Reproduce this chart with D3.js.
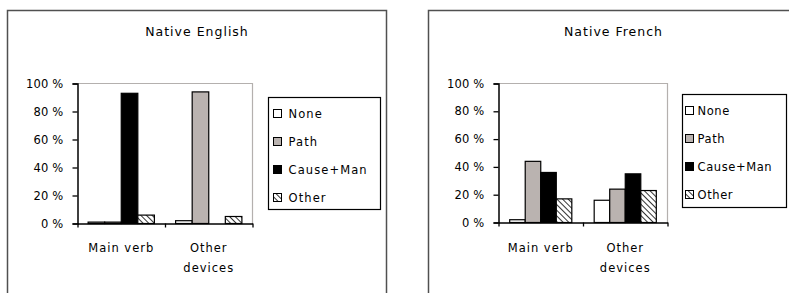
<!DOCTYPE html>
<html>
<head>
<meta charset="utf-8">
<script src="https://cdn.jsdelivr.net/npm/d3@7/dist/d3.min.js"></script>
<style>
  body { margin: 0; background: #fff; }
  svg text { font-family: "DejaVu Sans", sans-serif; fill: #000; }
</style>
</head>
<body>
<div id="graph"></div>
<script>
// Chart data
const categories = ["Main verb", "Other devices"];
const categoryLines = [["Main verb"], ["Other", "devices"]];
const seriesNames = ["None", "Path", "Cause+Man", "Other"];
const englishValues = [[1, 1, 93, 6], [2, 94, 0, 5]];
const frenchValues = [[2, 44, 36, 17], [16, 24, 35, 23]];
const yTicks = [0, 20, 40, 60, 80, 100];
const panelTitles = ["Native English", "Native French"];

const svg = d3.select("#graph")
    .append("svg")
    .attr("width", 789)
    .attr("height", 293);

// Hatch pattern for "Other" (lines running top-left to bottom-right)
const defs = svg.append("defs");
defs.append("pattern")
    .attr("id", "hatch")
    .attr("patternUnits", "userSpaceOnUse")
    .attr("width", 4)
    .attr("height", 4)
    .attr("patternTransform", "rotate(-45)")
    .call(p => {
        p.append("rect").attr("width", 4).attr("height", 4).attr("fill", "#fff");
        p.append("line")
            .attr("x1", 0).attr("y1", 0).attr("x2", 0).attr("y2", 4)
            .attr("stroke", "#000").attr("stroke-width", 1.6);
    });

const fills = ["#fff", "#bab3b0", "#000", "url(#hatch)"];

function drawPanel(opts) {
    const { title, values, box, plot, legend } = opts;
    const g = svg.append("g");

    // Outer chart border
    g.append("rect")
        .attr("x", box.x).attr("y", box.y)
        .attr("width", box.w).attr("height", box.h)
        .attr("fill", "#fff")
        .attr("stroke", "#505050")
        .attr("stroke-width", 1.5);

    g.append("text")
        .attr("x", box.x + box.w / 2 - (box.titleShift || 0))
        .attr("y", 36)
        .attr("text-anchor", "middle")
        .style("font-size", "12.5px")
        .style("letter-spacing", "1px")
        .text(title);

    const x = d3.scaleBand()
        .domain(categories)
        .range([plot.x0, plot.x1])
        .padding(0);
    const xs = d3.scaleBand()
        .domain(seriesNames)
        .range([0, x.bandwidth()])
        .paddingInner(0)
        .paddingOuter(plot.outer);
    const y = d3.scaleLinear()
        .domain([0, 100])
        .range([plot.y1, plot.y0]);

    // Plot area grey frame (top and right)
    g.append("path")
        .attr("d", `M${plot.x0},${plot.y0}H${plot.x1}V${plot.y1}`)
        .attr("fill", "none")
        .attr("stroke", "#b4b0ae")
        .attr("stroke-width", 1.2);

    // Bars
    const groups = g.selectAll(".cat")
        .data(categories)
        .join("g")
        .attr("transform", d => `translate(${x(d)},0)`);
    groups.selectAll("rect")
        .data((d, i) => values[i].map((v, j) => ({ v, s: seriesNames[j], j })))
        .join("rect")
        .attr("x", d => xs(d.s))
        .attr("y", d => y(d.v))
        .attr("width", xs.bandwidth())
        .attr("height", d => y(0) - y(d.v))
        .attr("fill", d => fills[d.j])
        .attr("stroke", "#000")
        .attr("stroke-width", d => d.v > 0 ? 1.2 : 0);

    // Y axis
    const yAxis = g.append("g")
        .attr("transform", `translate(${plot.x0},0)`)
        .call(d3.axisLeft(y).tickValues(yTicks).tickSize(5).tickPadding(9)
            .tickFormat(d => d + " %"));
    yAxis.select(".domain").attr("stroke", "#000").attr("stroke-width", 1.5);
    yAxis.selectAll(".tick line").attr("stroke", "#000").attr("stroke-width", 1.3);
    yAxis.selectAll("text")
        .style("font-size", "11.5px")
        .style("letter-spacing", "0.2px")
        .attr("font-family", null);

    // X axis (ticks at category boundaries)
    const xb = d3.scaleLinear().domain([0, categories.length]).range([plot.x0, plot.x1]);
    const xAxis = g.append("g")
        .attr("transform", `translate(0,${plot.y1})`)
        .call(d3.axisBottom(xb).tickValues(d3.range(categories.length + 1))
            .tickSize(4).tickSizeOuter(0).tickFormat(""));
    xAxis.select(".domain").attr("stroke", "#000").attr("stroke-width", 1.5);
    xAxis.selectAll(".tick line").attr("stroke", "#000").attr("stroke-width", 1.3);

    // Category labels
    categories.forEach((c, i) => {
        const t = g.append("text")
            .attr("x", x(c) + x.bandwidth() / 2)
            .attr("y", 252)
            .attr("text-anchor", "middle")
            .style("font-size", "11.5px")
            .style("letter-spacing", "1px");
        categoryLines[i].forEach((line, k) => {
            t.append("tspan")
                .attr("x", x(c) + x.bandwidth() / 2)
                .attr("dy", k === 0 ? 0 : 20)
                .text(line);
        });
    });

    // Legend
    const lg = g.append("g");
    lg.append("rect")
        .attr("x", legend.x).attr("y", legend.y)
        .attr("width", legend.w).attr("height", legend.h)
        .attr("fill", "#fff")
        .attr("stroke", "#000")
        .attr("stroke-width", 1.2);
    const items = lg.selectAll(".item")
        .data(seriesNames)
        .join("g")
        .attr("transform", (d, i) => `translate(${legend.x + legend.pad},${legend.y + 16 + i * 28})`);
    items.append("rect")
        .attr("x", 0).attr("y", -4)
        .attr("width", 8).attr("height", 8)
        .attr("fill", (d, i) => fills[i])
        .attr("stroke", "#000")
        .attr("stroke-width", 1);
    items.append("text")
        .attr("x", legend.gap)
        .attr("y", 4.5)
        .style("font-size", "11.5px")
        .style("letter-spacing", legend.spacing)
        .text(d => d);
}

drawPanel({
    title: panelTitles[0],
    values: englishValues,
    box: { x: 7.5, y: 10.5, w: 379, h: 300 },
    plot: { x0: 77.5, x1: 252.5, y0: 83.5, y1: 223.5, outer: 0.64 },
    legend: { x: 268.5, y: 97.5, w: 112, h: 112, pad: 5, gap: 15, spacing: "1.1px" }
});

drawPanel({
    title: panelTitles[1],
    values: frenchValues,
    box: { x: 428.5, y: 10.5, w: 380, h: 300, titleShift: 5 },
    plot: { x0: 498.5, x1: 667.5, y0: 83.5, y1: 222.5, outer: 0.72 },
    legend: { x: 682.5, y: 94.5, w: 104, h: 113, pad: 3, gap: 12, spacing: "0.6px" }
});
</script>
</body>
</html>
